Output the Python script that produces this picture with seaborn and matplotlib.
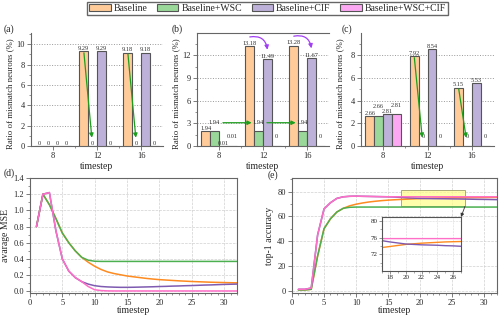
import numpy as np
import pandas as pd
import matplotlib
matplotlib.use("Agg")
import matplotlib.pyplot as plt
import seaborn as sns
from matplotlib.ticker import MultipleLocator, AutoMinorLocator, FixedLocator
from matplotlib.patches import Rectangle, Patch, ConnectionPatch
from matplotlib.transforms import offset_copy

# ---------------- data ----------------
methods = ["Baseline", "Baseline+WSC", "Baseline+CIF", "Baseline+WSC+CIF"]
bar_timesteps = ["8", "12", "16"]

a_baseline = [0, 9.29, 9.18]
a_wsc = [0, 0, 0]
a_cif = [0, 9.29, 9.18]
a_wsc_cif = [0, 0, 0]

b_baseline = [1.94, 13.18, 13.28]
b_wsc = [1.94, 1.94, 1.94]
b_cif = [0.01, 11.49, 11.67]
b_wsc_cif = [0.01, 0, 0]

c_baseline = [2.66, 7.92, 5.15]
c_wsc = [2.66, 0, 0]
c_cif = [2.81, 8.54, 5.53]
c_wsc_cif = [2.81, 0, 0]

t = list(range(1, 33))
mse_baseline = [0.80, 1.20, 1.07, 0.90, 0.72, 0.60, 0.50, 0.42, 0.36, 0.31, 0.27, 0.24,
                0.22, 0.205, 0.19, 0.18, 0.17, 0.16, 0.152, 0.145, 0.14, 0.135, 0.13, 0.126,
                0.122, 0.119, 0.116, 0.113, 0.111, 0.109, 0.107, 0.105]
mse_wsc = [0.80, 1.20, 1.07, 0.90, 0.72, 0.60, 0.50, 0.42, 0.385, 0.372, 0.37, 0.37,
           0.37, 0.37, 0.37, 0.37, 0.37, 0.37, 0.37, 0.37, 0.37, 0.37, 0.37, 0.37,
           0.37, 0.37, 0.37, 0.37, 0.37, 0.37, 0.37, 0.37]
mse_cif = [0.80, 1.20, 1.22, 0.75, 0.40, 0.25, 0.17, 0.12, 0.09, 0.07, 0.06, 0.055,
           0.052, 0.05, 0.05, 0.051, 0.053, 0.055, 0.057, 0.06, 0.062, 0.065, 0.067, 0.07,
           0.072, 0.075, 0.078, 0.08, 0.083, 0.086, 0.088, 0.09]
mse_wsc_cif = [0.80, 1.20, 1.22, 0.75, 0.40, 0.25, 0.17, 0.12, 0.06, 0.02, 0.01, 0.006,
               0.005, 0.005, 0.005, 0.005, 0.005, 0.005, 0.005, 0.005, 0.005, 0.005, 0.005, 0.005,
               0.005, 0.005, 0.005, 0.005, 0.005, 0.005, 0.005, 0.005]

acc_baseline = [0.5, 0.5, 1.0, 28, 50, 58, 63.5, 66.5, 68.5, 69.8, 70.8, 71.6,
                72.2, 72.7, 73.1, 73.4, 73.65, 73.9, 74.15, 74.4, 74.55, 74.7, 74.8, 74.9,
                75.0, 75.05, 75.1, 75.15, 75.2, 75.25, 75.3, 75.35]
acc_wsc = [0.5, 0.5, 1.0, 28, 50, 58, 63.5, 66.5, 67.3, 67.5, 67.5, 67.5,
           67.5, 67.5, 67.5, 67.5, 67.5, 67.5, 67.5, 67.5, 67.5, 67.5, 67.5, 67.5,
           67.5, 67.5, 67.5, 67.5, 67.5, 67.5, 67.5, 67.5]
acc_cif = [1, 1, 2, 45, 66, 71, 74.5, 75.8, 76.2, 76.3, 76.2, 76.1,
           76.0, 75.9, 75.8, 75.6, 75.3, 75.0, 74.75, 74.5, 74.4, 74.3, 74.25, 74.2,
           74.1, 74.05, 73.95, 73.85, 73.75, 73.7, 73.6, 73.5]
acc_wsc_cif = [1, 1, 2, 45, 66, 71, 74.5, 75.8, 76.2, 76.3, 76.2, 76.1,
               76.0, 75.9, 75.85, 75.8, 75.8, 75.8, 75.8, 75.8, 75.8, 75.8, 75.8, 75.8,
               75.8, 75.8, 75.8, 75.8, 75.8, 75.8, 75.8, 75.8]

# ---------------- style ----------------
sns.set_style("ticks")
plt.rcParams["font.family"] = ["Liberation Serif", "DejaVu Serif"]
plt.rcParams["mathtext.fontset"] = "stix"

bar_colors = {"Baseline": "#FFCC99", "Baseline+WSC": "#99D899",
              "Baseline+CIF": "#BDB0D9", "Baseline+WSC+CIF": "#FCA8F2"}
line_colors = {"Baseline": "#FF8A1F", "Baseline+WSC": "#4CAF50",
               "Baseline+CIF": "#7E5BB0", "Baseline+WSC+CIF": "#FF6EC7"}
EDGE = "#555555"
SPINE = "#666666"

W, H = 504, 315
fig = plt.figure(figsize=(W / 100, H / 100), dpi=100)


def rect(l, r, t_, b):
    return [l / W, 1 - b / H, (r - l) / W, (b - t_) / H]


def bar_panel(pos, vals, ylim, ystep, stagger, top_spine=False):
    ax = fig.add_axes(rect(*pos))
    rows = []
    for m, v in zip(methods, vals):
        for ts, val in zip(bar_timesteps, v):
            rows.append({"timestep": ts, "value": val, "method": m})
    df = pd.DataFrame(rows)
    sns.barplot(data=df, x="timestep", y="value", hue="method", hue_order=methods,
                order=bar_timesteps, palette=bar_colors, saturation=1, edgecolor=EDGE,
                linewidth=0.8, errorbar=None, legend=False, ax=ax, zorder=3)
    ax.set_xlim(-0.5, 2.5)
    ax.set_ylim(*ylim)
    ax.yaxis.set_major_locator(MultipleLocator(ystep))
    ax.yaxis.set_minor_locator(AutoMinorLocator(2))
    ax.xaxis.set_minor_locator(FixedLocator([0.5, 1.5]))
    ax.yaxis.grid(True, linestyle=":", color="#999999", lw=0.7, zorder=0)
    ax.set_axisbelow(True)
    ax.spines["right"].set_visible(False)
    ax.spines["top"].set_visible(top_spine)
    for s in ["left", "bottom", "top"]:
        ax.spines[s].set_color(SPINE)
        ax.spines[s].set_linewidth(0.8)
    ax.tick_params(axis="both", which="major", labelsize=6, length=3, width=0.6,
                   color=SPINE, pad=1.5)
    ax.tick_params(axis="both", which="minor", length=1.5, width=0.5, color=SPINE)
    ax.set_xlabel("timestep", fontsize=7, labelpad=1)
    ax.set_ylabel("Ratio of mismatch neurons (%)", fontsize=6.3, labelpad=2)
    ax.yaxis.set_label_coords(-0.13, 0.46)
    # value labels
    for j, v in enumerate(vals):
        for i, val in enumerate(v):
            txt = "0" if val == 0 else f"{val:.2f}"
            pad = 6.5 if stagger[j] else 2.0
            ax.annotate(txt, (i + (j - 1.5) * 0.2, val), xytext=(0, pad),
                        textcoords="offset points", ha="center", va="center",
                        fontsize=4.6, color="#333333", zorder=5)
    return ax


pan_a = bar_panel((31, 163, 33, 146), [a_baseline, a_wsc, a_cif, a_wsc_cif],
                  (0, 11.1), 2, [False, False, False, False])
pan_b = bar_panel((197, 329, 33, 146), [b_baseline, b_wsc, b_cif, b_wsc_cif],
                  (0, 14.95), 3, [False, True, False, True], top_spine=True)
pan_c = bar_panel((361, 494, 33, 146), [c_baseline, c_wsc, c_cif, c_wsc_cif],
                  (0, 9.98), 2, [False, True, False, True])

GREEN_ARROW = "#1E9E1E"
PURPLE_ARROW = "#A13EF5"

# green down arrows in (a) and (c)
for ax, base, wsc in [(pan_a, a_baseline, a_wsc), (pan_c, c_baseline, c_wsc)]:
    for i in [1, 2]:
        ax.annotate("", xy=(i - 0.1, wsc[i]), xytext=(i - 0.3, base[i]),
                    arrowprops=dict(arrowstyle="-|>", color=GREEN_ARROW, lw=0.9,
                                    mutation_scale=6, shrinkA=1, shrinkB=6), zorder=6)

# green horizontal arrows in (b)
tr_b = offset_copy(pan_b.transData, fig=fig, x=0, y=6.2, units="points")
for i in [0, 1]:
    pan_b.annotate("", xy=(i + 0.9, b_wsc[i + 1]), xytext=(i - 0.1, b_wsc[i]),
                   xycoords=tr_b, textcoords=tr_b,
                   arrowprops=dict(arrowstyle="-|>", color=GREEN_ARROW, lw=0.9,
                                   mutation_scale=6, shrinkA=6, shrinkB=5), zorder=6)

# purple curved arrows in (b)
tr_b2 = offset_copy(pan_b.transData, fig=fig, x=0, y=6.8, units="points")
for i in [1, 2]:
    pan_b.annotate("", xy=(i + 0.1, b_cif[i]), xytext=(i - 0.3, b_baseline[i]),
                   xycoords=tr_b2, textcoords=tr_b2, annotation_clip=False,
                   arrowprops=dict(arrowstyle="-|>", color=PURPLE_ARROW, lw=0.9,
                                   mutation_scale=6, shrinkA=0, shrinkB=0,
                                   connectionstyle="arc3,rad=-0.5"), zorder=6)

# legend
handles = [Patch(facecolor=bar_colors[m], edgecolor=EDGE, linewidth=0.8) for m in methods]
fig.legend(handles, methods, loc="center", bbox_to_anchor=(267.5 / W, 1 - 8.5 / H), ncol=4,
           fontsize=7, frameon=True, fancybox=False, edgecolor="#666666", framealpha=1,
           handlelength=2.2, handleheight=0.75, handletextpad=0.3, columnspacing=1.0,
           borderpad=0.2, borderaxespad=0)


def line_panel(pos):
    ax = fig.add_axes(rect(*pos))
    for s in ax.spines.values():
        s.set_color(SPINE)
        s.set_linewidth(0.8)
    ax.grid(True, linestyle="--", color="#d0d0d0", lw=0.5)
    ax.tick_params(axis="both", which="major", labelsize=6, length=3, width=0.6,
                   color=SPINE, pad=1.5)
    ax.tick_params(axis="both", which="minor", length=1.5, width=0.5, color=SPINE)
    return ax


series_mse = [mse_baseline, mse_wsc, mse_cif, mse_wsc_cif]
series_acc = [acc_baseline, acc_wsc, acc_cif, acc_wsc_cif]

# (d)
pan_d = line_panel((30, 237, 178, 293))
for m, s in zip(methods, series_mse):
    sns.lineplot(x=t, y=s, color=line_colors[m], lw=1.1, ax=pan_d)
pan_d.set_xlim(0, 32)
pan_d.set_ylim(-0.02, 1.4)
pan_d.xaxis.set_major_locator(MultipleLocator(5))
pan_d.xaxis.set_minor_locator(AutoMinorLocator(5))
pan_d.yaxis.set_major_locator(MultipleLocator(0.2))
pan_d.yaxis.set_major_formatter(matplotlib.ticker.FormatStrFormatter("%.1f"))
pan_d.yaxis.set_minor_locator(AutoMinorLocator(2))
pan_d.set_xlabel("timestep", fontsize=7, labelpad=-1)
pan_d.set_ylabel("avarage MSE", fontsize=7, labelpad=2)

# (e)
pan_e = line_panel((292, 497, 178, 293))
for m, s in zip(methods, series_acc):
    sns.lineplot(x=t, y=s, color=line_colors[m], lw=1.1, ax=pan_e)
pan_e.set_xlim(0, 32)
pan_e.set_ylim(-2, 91)
pan_e.xaxis.set_major_locator(MultipleLocator(5))
pan_e.xaxis.set_minor_locator(AutoMinorLocator(5))
pan_e.yaxis.set_major_locator(MultipleLocator(20))
pan_e.yaxis.set_minor_locator(AutoMinorLocator(2))
pan_e.set_xlabel("timestep", fontsize=7, labelpad=-1)
pan_e.set_ylabel("top-1 accuracy", fontsize=7, labelpad=2)

zx0, zx1, zy0, zy1 = 17, 27, 68, 81
pan_e.add_patch(Rectangle((zx0, zy0), zx1 - zx0, zy1 - zy0, facecolor="#FFFF88",
                          edgecolor="#888855", lw=0.7, alpha=0.7, zorder=1.5))

ins = fig.add_axes(rect(382, 461, 217, 271))
for m, s in zip(methods, series_acc):
    sns.lineplot(x=t, y=s, color=line_colors[m], lw=1.0, ax=ins)
ins.set_xlim(zx0, zx1)
ins.set_ylim(zy0, zy1)
ins.xaxis.set_major_locator(MultipleLocator(2))
ins.xaxis.set_minor_locator(AutoMinorLocator(2))
ins.yaxis.set_major_locator(FixedLocator([72, 76, 80]))
ins.yaxis.set_minor_locator(FixedLocator([70, 74, 78]))
ins.grid(True, linestyle="--", color="#d8d8d8", lw=0.4)
for s in ins.spines.values():
    s.set_color("#555555")
    s.set_linewidth(0.8)
ins.tick_params(axis="both", which="major", labelsize=5, length=2, width=0.5,
                color=SPINE, pad=1)
ins.tick_params(axis="both", which="minor", length=1.2, width=0.4, color=SPINE)

con = ConnectionPatch(xyA=(zx1, zy0), coordsA=pan_e.transData, xyB=(1, 1),
                      coordsB=ins.transAxes, arrowstyle="-|>", color="#333333",
                      lw=0.6, mutation_scale=5)
fig.add_artist(con)

# panel labels
for lab, x, y in [("(a)", 4, 29), ("(b)", 172, 29), ("(c)", 342, 29),
                  ("(d)", 4, 173), ("(e)", 268, 175)]:
    fig.text(x / W, 1 - y / H, lab, fontsize=7, ha="left", va="center")

fig.savefig("out.png", dpi=100)
